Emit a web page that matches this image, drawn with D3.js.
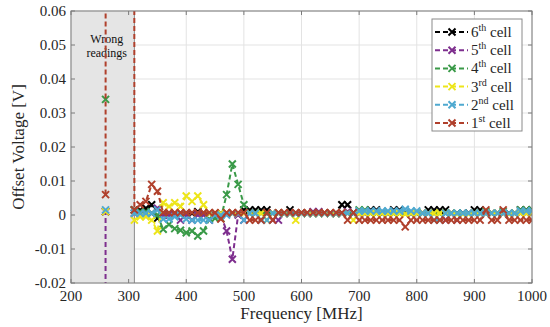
<!DOCTYPE html>
<html>
<head>
<meta charset="utf-8">
<script src="https://cdn.jsdelivr.net/npm/d3@7"></script>
<style>
  body { margin: 0; background: #fff; }
</style>
</head>
<body>
<svg id="chart" width="550" height="327" font-family="'Liberation Serif', 'Times New Roman', 'DejaVu Serif', serif"></svg>
<script>
// frequencies in MHz (250..300 are the "wrong readings" sweep)
var freqs = [250, 260, 270, 280, 290, 300, 310, 320, 330, 340, 350, 360, 370, 380, 390, 400,
  410, 420, 430, 440, 450, 460, 470, 480, 490, 500, 510, 520, 530, 540, 550, 560, 570, 580,
  590, 600, 610, 620, 630, 640, 650, 660, 670, 680, 690, 700, 710, 720, 730, 740, 750, 760,
  770, 780, 790, 800, 810, 820, 830, 840, 850, 860, 870, 880, 890, 900, 910, 920, 930, 940,
  950, 960, 970, 980, 990, 1000];

var xTicks = [200, 300, 400, 500, 600, 700, 800, 900, 1000];
var yTicks = [-0.02, -0.01, 0, 0.01, 0.02, 0.03, 0.04, 0.05, 0.06];
var yTickLabels = ["-0.02", "-0.01", "0", "0.01", "0.02", "0.03", "0.04", "0.05", "0.06"];

// offset voltage [V] per cell; 5 / -5 = off-scale wrong readings, null = not recorded
var cell6 = [null, 0.001, null, null, null, null, 0.0015, 0.0015, 0.002, 0.003, -0.001, 0.0005, 0.0005, 0.0005, 0.0005, 0.0005,
  0.0005, 0.001, 0.0005, 0.0005, 0.0005, 0.0005, 0.0005, 0.0005, 0.0005, 0.0015, 0.0015, 0.0015, 0.0015, 0.0015, 0.0005, 0.0005, 0.0005, 0.0015,
  0.0005, 0.0005, 0.0005, 0.0005, 0.0005, 0.0005, 0.0005, 0.0005, 0.003, 0.003, 0.0005, 0.0005, 0.0005, 0.0015, 0.0015, 0.0005, 0.0005, 0.0015,
  0.0015, 0.0005, 0.0005, 0.0005, 0.0005, 0.0015, 0.0015, 0.0015, 0.0015, 0.0005, 0.0005, 0.0005, 0.0005, 0.0015, 0.0015, 0.0005, 0.0005, 0.0005,
  0.0005, 0.0005, 0.0005, 0.0015, 0.0015, 0.0015];
var cell5 = [-5, 0.001, null, null, null, null, 0.0005, 0.0005, 0.0005, 0.0005, 0.002, 0, 0, 0, -0.0015, 0,
  -0.0015, 0, 0, -0.0015, 0, 0, -0.0047, -0.013, 0, -0.0015, 0.0005, 0.0005, -0.0015, 0.0005, -0.0015, -0.0015, 0.0005, 0.0005,
  0.0005, 0.0005, 0.0005, 0.001, 0.001, 0.0005, 0.0005, 0.0005, 0.0005, 0.001, 0.0005, 0.0005, 0.0005, 0.0005, 0.0005, 0.0005, 0.0005, 0.0005,
  0.0005, 0.0005, 0.0005, 0.0005, 0.0005, 0.0005, 0.0005, 0.0005, -0.0015, 0.0005, -0.0015, 0.0005, 0.0005, 0.0005, 0.0005, 0.0005, 0.0005, 0.0005,
  0.0005, 0.0005, 0.0005, 0.0005, 0.0005, 0.0005];
var cell4 = [null, 0.034, null, null, null, null, 0.0015, 0.001, 0.001, 0.0005, 0, -0.0042, -0.0028, -0.004, -0.0045, -0.0052,
  -0.0047, -0.0062, -0.0047, -0.0012, -0.001, -0.001, 0.006, 0.015, 0.009, 0.003, 0.0005, 0.0005, 0.0005, 0.0005, 0.0005, 0.0005, 0.0005, 0.0005,
  0.0005, 0.0005, 0.0005, 0.0005, 0.0005, 0.0005, 0.0005, 0.0005, 0.0005, 0.0005, 0.0005, 0.0015, 0.0015, 0.0005, 0.0005, 0.0005, 0.0005, 0.0005,
  0.0005, 0.0005, 0.0005, 0.0005, 0.0005, 0.0005, 0.0005, 0.0005, 0.0005, 0.0005, 0.0005, 0.0005, 0.0005, 0.0005, 0.0005, 0.001, 0.0005, 0.0005,
  0.001, 0.0005, 0.0005, 0.0015, 0.0015, 0.0015];
var cell3 = [null, 0.001, null, null, null, null, -0.0015, -0.0005, -0.0005, -0.0015, -0.0047, 0.0036, 0.0025, 0.0036, 0.0025, 0.0056,
  0.004, 0.0056, 0.003, 0.0005, 0.0005, 0.0005, 0.0005, 0.0005, 0.0005, 0.0005, 0.0005, 0.0005, 0.0005, -0.0015, 0.0005, 0.0005, 0.0005, 0.0005,
  -0.0015, 0.0005, 0.0005, 0.0005, 0.0005, 0.0005, 0.0005, 0.0005, 0.0005, 0.0005, -0.0015, 0.0005, 0.0005, 0.0005, 0.0005, 0.0005, 0.0005, 0.0005,
  0.0005, 0.0003, 0.0005, 0.0005, 0.0005, 0.0005, 0.0005, 0.0005, 0.0005, 0.0005, 0.0003, 0.0003, 0.0003, 0.0005, 0.0005, 0.0005, 0.0005, 0.0005,
  0.0005, 0.0003, 0.0005, 0.0005, 0.0005, 0.0005];
var cell2 = [null, 0.0015, null, null, null, null, 0.0005, 0.0005, 0.0005, 0.0005, 0.0015, -0.0012, -0.0012, -0.0005, 0, -0.0012,
  -0.0015, -0.0015, -0.0015, -0.0015, 0, 0, 0, 0.0005, 0.0005, -0.0015, 0.0005, 0.0005, -0.0015, -0.0015, 0.0005, 0.0005, 0.0005, 0.0005,
  0.0005, 0.0005, 0.0005, 0.0005, 0.0005, 0.0005, 0.0005, 0.0005, 0.0005, 0.0005, 0.0005, 0.0012, 0.0012, 0.0012, 0.0012, 0.0012, 0.0012, 0.0012,
  0.0012, 0.0017, 0.0012, 0.0012, 0.0005, 0.0005, -0.0015, -0.0015, 0.0005, 0.0005, 0.0005, 0.0005, 0.0005, 0.0005, 0.0005, 0.0005, 0.0005, 0.0005,
  0.0005, 0.0005, 0.0005, 0.0012, 0.0012, 0.0012];
var cell1 = [null, 0.006, 5, 5, 5, 5, 0.0015, 0.003, 0.004, 0.009, 0.007, 0.0007, 0.0007, 0.0007, 0.0007, 0.0007,
  0.0007, 0.0007, 0.0007, 0.0007, 0.0007, -0.0012, 0.0007, 0.0007, 0.0007, 0.0007, -0.0015, -0.0015, -0.0015, 0.0007, -0.0015, 0.0007, 0.0007, 0.0007,
  0.0007, 0.0007, 0.0007, 0.0007, 0.0007, 0.0007, 0.0007, 0.0007, 0.0007, -0.0015, 0.0007, -0.0015, -0.0015, -0.0015, -0.0015, -0.0015, -0.0015, -0.0015,
  -0.0015, -0.0035, -0.0015, -0.0015, -0.0015, -0.0015, -0.0015, -0.0015, -0.0015, -0.0015, -0.0015, -0.0015, -0.0015, -0.0015, -0.0015, 0.0015, -0.0015, -0.0015,
  0.0015, -0.0015, -0.0015, -0.0015, -0.0015, -0.0015];

var cellNames = ["6", "5", "4", "3", "2", "1"];
var cellSup = ["th", "th", "th", "rd", "nd", "st"];
var cellColors = ["#000000", "#7e2f8e", "#3a9a48", "#ede51a", "#4fa9d0", "#b0402c"];
var cellValues = [cell6, cell5, cell4, cell3, cell2, cell1];

var margin = {left: 71, right: 18, top: 11, bottom: 44};
var width = 550, height = 327;
var svg = d3.select("#chart");

var x = d3.scaleLinear().domain([200, 1000]).range([margin.left, width - margin.right]);
var y = d3.scaleLinear().domain([-0.02, 0.06]).range([height - margin.bottom, margin.top]);

var x0 = x.range()[0], x1 = x.range()[1], y0 = y.range()[0], y1 = y.range()[1];

svg.append("defs").append("clipPath").attr("id", "plotclip")
  .append("rect").attr("x", x0).attr("y", y1).attr("width", x1 - x0).attr("height", y0 - y1);

// grid
var grid = svg.append("g");
grid.selectAll(".gx").data(xTicks).enter().append("line")
  .attr("x1", function(d) { return x(d); }).attr("x2", function(d) { return x(d); })
  .attr("y1", y0).attr("y2", y1)
  .attr("stroke", "#e3e3e3").attr("stroke-width", 1);
grid.selectAll(".gy").data(yTicks).enter().append("line")
  .attr("x1", x0).attr("x2", x1)
  .attr("y1", function(d) { return y(d); }).attr("y2", function(d) { return y(d); })
  .attr("stroke", "#e3e3e3").attr("stroke-width", 1);

// shaded "wrong readings" band
svg.append("rect")
  .attr("x", x(200)).attr("y", y1)
  .attr("width", x(310) - x(200)).attr("height", y0 - y1)
  .attr("fill", "#e5e5e5");
svg.append("line")
  .attr("x1", x(310)).attr("x2", x(310)).attr("y1", y0).attr("y2", y1)
  .attr("stroke", "#8a8a8a").attr("stroke-width", 1);

svg.append("text").attr("x", x(262)).attr("y", y(0.0505))
  .attr("text-anchor", "middle").style("font-size", "12px").attr("fill", "#111")
  .text("Wrong");
svg.append("text").attr("x", x(262)).attr("y", y(0.0465))
  .attr("text-anchor", "middle").style("font-size", "12px").attr("fill", "#111")
  .text("readings");

// series
var line = d3.line()
  .defined(function(d) { return d[1] !== null; })
  .x(function(d) { return x(d[0]); })
  .y(function(d) { return y(d[1]); });

var xMark = "M-3.5,-3.5L3.5,3.5M-3.5,3.5L3.5,-3.5";

var plot = svg.append("g").attr("clip-path", "url(#plotclip)");
cellValues.forEach(function(vals, k) {
  var pts = freqs.map(function(f, i) { return [f, vals[i]]; });
  plot.append("path")
    .datum(pts)
    .attr("d", line)
    .attr("fill", "none")
    .attr("stroke", cellColors[k])
    .attr("stroke-width", 2)
    .style("stroke-dasharray", ("5, 3"));
  plot.selectAll(".m" + k).data(pts.filter(function(d) { return d[1] !== null; })).enter().append("path")
    .attr("transform", function(d) { return "translate(" + x(d[0]) + "," + y(d[1]) + ")"; })
    .attr("d", xMark)
    .attr("fill", "none")
    .attr("stroke", cellColors[k])
    .attr("stroke-width", 2);
});

// axes box and ticks
svg.append("rect").attr("x", x0).attr("y", y1).attr("width", x1 - x0).attr("height", y0 - y1)
  .attr("fill", "none").attr("stroke", "#7a7a7a").attr("stroke-width", 1);

var ticks = svg.append("g").attr("stroke", "#7a7a7a");
xTicks.forEach(function(t) {
  ticks.append("line").attr("x1", x(t)).attr("x2", x(t)).attr("y1", y0).attr("y2", y0 - 4);
  ticks.append("line").attr("x1", x(t)).attr("x2", x(t)).attr("y1", y1).attr("y2", y1 + 4);
});
yTicks.forEach(function(t) {
  ticks.append("line").attr("x1", x0).attr("x2", x0 + 4).attr("y1", y(t)).attr("y2", y(t));
  ticks.append("line").attr("x1", x1).attr("x2", x1 - 4).attr("y1", y(t)).attr("y2", y(t));
});

svg.selectAll(".xl").data(xTicks).enter().append("text")
  .attr("x", function(d) { return x(d); })
  .attr("y", y0 + 18)
  .attr("text-anchor", "middle")
  .attr("fill", "#262626")
  .style("font-size", "15px")
  .text(function(d) { return d; });

svg.selectAll(".yl").data(yTicks).enter().append("text")
  .attr("x", x0 - 5)
  .attr("y", function(d) { return y(d) + 5; })
  .attr("text-anchor", "end")
  .attr("fill", "#262626")
  .style("font-size", "15px")
  .text(function(d, i) { return yTickLabels[i]; });

svg.append("text")
  .attr("x", (x0 + x1) / 2).attr("y", 319)
  .attr("text-anchor", "middle").style("font-size", "17px").attr("fill", "#262626")
  .text("Frequency [MHz]");

svg.append("text")
  .attr("transform", "translate(24," + ((y0 + y1) / 2) + ") rotate(-90)")
  .attr("text-anchor", "middle").style("font-size", "17px").attr("fill", "#262626")
  .text("Offset Voltage [V]");

// legend
var lg = svg.append("g");
lg.append("rect").attr("x", 432).attr("y", 19).attr("width", 90).attr("height", 112)
  .attr("fill", "#fff").attr("stroke", "#8a8a8a").attr("stroke-width", 1);

var entry = lg.selectAll(".entry").data(cellNames).enter().append("g")
  .attr("transform", function(d, i) { return "translate(0," + (32 + i * 18.2) + ")"; });

entry.append("line")
  .attr("x1", 435).attr("x2", 468).attr("y1", 0).attr("y2", 0)
  .attr("stroke", function(d, i) { return cellColors[i]; })
  .attr("stroke-width", 2)
  .style("stroke-dasharray", ("5, 3"));
entry.append("path")
  .attr("transform", "translate(452,0)")
  .attr("d", xMark)
  .attr("fill", "none")
  .attr("stroke", function(d, i) { return cellColors[i]; })
  .attr("stroke-width", 2);

var et = entry.append("text")
  .attr("x", 471).attr("y", 5)
  .attr("fill", "#262626")
  .style("font-size", "15px");
et.append("tspan").text(function(d) { return d; });
et.append("tspan").attr("dy", -6).style("font-size", "10px")
  .text(function(d, i) { return cellSup[i]; });
et.append("tspan").attr("dy", 6).text(" cell");
</script>
</body>
</html>
